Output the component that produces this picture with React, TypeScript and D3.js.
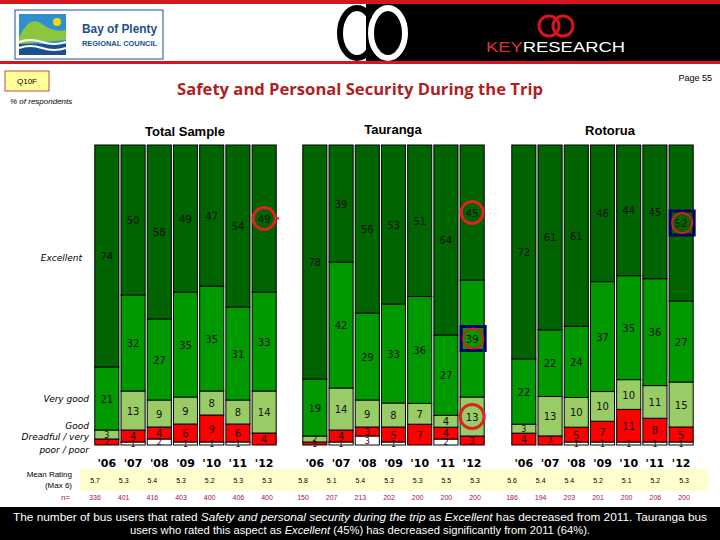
import * as d3 from "d3";

const years = ["'06", "'07", "'08", "'09", "'10", "'11", "'12"];
const groupNames = ["Total Sample", "Tauranga", "Rotorua"];
const seriesKeys = ["dk", "poor", "good", "vgood", "exc"];

const totalExcellent = [74, 50, 58, 49, 47, 54, 49];
const totalVeryGood = [21, 32, 27, 35, 35, 31, 33];
const totalGood = [3, 13, 9, 9, 8, 8, 14];
const totalPoor = [2, 4, 4, 6, 9, 6, 4];
const totalDontKnow = [0, 1, 2, 1, 1, 1, 0];

const taurangaExcellent = [78, 39, 56, 53, 51, 64, 45];
const taurangaVeryGood = [19, 42, 29, 33, 36, 27, 39];
const taurangaGood = [2, 14, 9, 8, 7, 4, 13];
const taurangaPoor = [1, 4, 3, 5, 7, 4, 3];
const taurangaDontKnow = [0, 1, 3, 1, 0, 2, 0];

const rotoruaExcellent = [72, 61, 61, 46, 44, 45, 52];
const rotoruaVeryGood = [22, 22, 24, 37, 35, 36, 27];
const rotoruaGood = [3, 13, 10, 10, 10, 11, 15];
const rotoruaPoor = [4, 3, 5, 7, 11, 8, 5];
const rotoruaDontKnow = [0, 0, 1, 1, 1, 1, 1];

const totalMean = [5.7, 5.3, 5.4, 5.3, 5.2, 5.3, 5.3];
const taurangaMean = [5.8, 5.1, 5.4, 5.3, 5.3, 5.5, 5.3];
const rotoruaMean = [5.6, 5.4, 5.4, 5.2, 5.1, 5.2, 5.3];

const totalN = [336, 401, 416, 403, 400, 406, 400];
const taurangaN = [150, 207, 213, 202, 200, 200, 200];
const rotoruaN = [186, 194, 203, 201, 200, 206, 200];

// significance marks: group index, year, series, kind
const marks = [
  { g: 0, year: "'12", key: "exc", kind: "circle" },
  { g: 1, year: "'12", key: "exc", kind: "circle" },
  { g: 1, year: "'12", key: "vgood", kind: "square" },
  { g: 1, year: "'12", key: "good", kind: "circle" },
  { g: 2, year: "'12", key: "exc", kind: "square" },
];

const colors: Record<string, string> = {
  exc: "#006400",
  vgood: "#009900",
  good: "#99CC66",
  poor: "#FF0000",
  dk: "#FFFFFF",
};

const groupRanges: [number, number][] = [
  [94, 277],
  [302, 485],
  [511, 694],
];
const titleX = [185, 393, 610];
const titleY = [136, 134, 135];

const makeRows = (exc: number[], vg: number[], gd: number[], pr: number[], dk: number[]) =>
  years.map((y, i) => ({ year: y, exc: exc[i], vgood: vg[i], good: gd[i], poor: pr[i], dk: dk[i] }));

const groups = [
  { rows: makeRows(totalExcellent, totalVeryGood, totalGood, totalPoor, totalDontKnow), mean: totalMean, n: totalN },
  { rows: makeRows(taurangaExcellent, taurangaVeryGood, taurangaGood, taurangaPoor, taurangaDontKnow), mean: taurangaMean, n: taurangaN },
  { rows: makeRows(rotoruaExcellent, rotoruaVeryGood, rotoruaGood, rotoruaPoor, rotoruaDontKnow), mean: rotoruaMean, n: rotoruaN },
];

const y = d3.scaleLinear().domain([0, 1]).range([445, 145]);
const stack = d3.stack<any>().keys(seriesKeys).offset(d3.stackOffsetExpand);

const labelFont = "Tahoma, 'DejaVu Sans', sans-serif";

function Group({ gi }: { gi: number }) {
  const g = groups[gi];
  const x = d3.scaleBand().domain(years).range(groupRanges[gi]).paddingInner(0.08).paddingOuter(0.03);
  const tx = d3.scalePoint().domain(years).range([groupRanges[gi][0] + 1, groupRanges[gi][1] - 10]);
  const layers = stack(g.rows as any);
  return (
    <g>
      <text x={titleX[gi]} y={titleY[gi]} textAnchor="middle" fontFamily="Arial, 'Liberation Sans', sans-serif" fontWeight="bold" fontSize={13}>
        {groupNames[gi]}
      </text>
      {layers.map((layer) => (
        <g key={layer.key}>
          {layer.map((d: any) => {
            const v = d.data[layer.key];
            if (!v) return null;
            return (
              <rect
                key={d.data.year}
                x={x(d.data.year)}
                y={y(d[1])}
                width={x.bandwidth()}
                height={y(d[0]) - y(d[1])}
                fill={colors[layer.key]}
                stroke="#000"
                strokeWidth={1}
              />
            );
          })}
        </g>
      ))}
      {layers.map((layer) => (
        <g key={layer.key + "-lab"} fontFamily={labelFont} fill="#111" textAnchor="middle">
          {layer.map((d: any) => {
            const v = d.data[layer.key];
            if (!v) return null;
            const small = v <= 3;
            return (
              <text
                key={d.data.year}
                x={(x(d.data.year) as number) + x.bandwidth() / 2}
                y={(y(d[0]) + y(d[1])) / 2 + (small ? 3 : 4)}
                fontSize={small ? 8 : 10}
              >
                {v}
              </text>
            );
          })}
        </g>
      ))}
      {marks
        .filter((m) => m.g === gi)
        .map((m, k) => {
          const layer = layers.find((l) => l.key === m.key)!;
          const d: any = layer.find((p: any) => p.data.year === m.year);
          const cx = (x(m.year) as number) + x.bandwidth() / 2;
          const cy = (y(d[0]) + y(d[1])) / 2;
          if (m.kind === "square") {
            return (
              <g key={k}>
                <rect x={cx - 11} y={cy - 12} width={24} height={24} fill="none" stroke="#000066" strokeWidth={3} />
                <circle cx={cx + 1} cy={cy} r={10} fill="none" stroke="#CC2222" strokeWidth={2} />
              </g>
            );
          }
          return (
            <g key={k}>
              <circle cx={cx} cy={cy} r={m.key === "good" ? 12 : 11} fill="none" stroke="#DD2222" strokeWidth={3} />
              {gi === 0 && <line x1={cx + 12} x2={cx + 15} y1={cy} y2={cy} stroke="#DD2222" strokeWidth={2} />}
            </g>
          );
        })}
      {years.map((yr) => (
        <text key={yr} x={(x(yr) as number) + x.bandwidth() / 2} y={467} textAnchor="middle" fontFamily={labelFont} fontWeight="bold" fontSize={11}>
          {yr}
        </text>
      ))}
      {years.map((yr, i) => (
        <text key={"m" + yr} x={tx(yr)} y={483} textAnchor="middle" fontFamily="Arial, sans-serif" fontSize={7}>
          {g.mean[i].toFixed(1)}
        </text>
      ))}
      {years.map((yr, i) => (
        <text key={"n" + yr} x={tx(yr)} y={500} textAnchor="middle" fontFamily="Arial, sans-serif" fontSize={7} fill="#A0203A">
          {g.n[i]}
        </text>
      ))}
    </g>
  );
}

function Header() {
  return (
    <g>
      <rect x={0} y={0} width={720} height={4} fill="#D8141E" />
      <rect x={366} y={4} width={354} height={58} fill="#000" />
      <rect x={0} y={61} width={720} height={3} fill="#D8141E" />
      {/* council logo */}
      <rect x={15} y={10} width={148} height={49} fill="#fff" stroke="#1B4F8F" strokeWidth={1} />
      <rect x={19} y={14} width={47} height={41} fill="#2F8FD0" />
      <path d="M19,38 C26,22 34,18 42,24 C50,30 58,32 66,30 L66,40 L19,44 Z" fill="#8CC63F" />
      <rect x={19} y={44} width={47} height={11} fill="#1B4F8F" />
      <path d="M19,42 Q30,38 42,42 T66,42" fill="none" stroke="#fff" strokeWidth={2} />
      <path d="M19,48 Q30,44 42,48 T66,48" fill="none" stroke="#fff" strokeWidth={2} />
      <circle cx={57} cy={22} r={4} fill="#F5D90A" />
      <text x={82} y={33} fontFamily="Arial, sans-serif" fontWeight="bold" fontSize={12} fill="#1B4F8F" textLength={75} lengthAdjust="spacingAndGlyphs">Bay of Plenty</text>
      <text x={82} y={46} fontFamily="Arial, sans-serif" fontWeight="bold" fontSize={7} fill="#1B4F8F" textLength={75} lengthAdjust="spacingAndGlyphs">REGIONAL COUNCIL</text>
      {/* centre rings */}
      <ellipse cx={357} cy={33} rx={17} ry={25} fill="none" stroke="#000" strokeWidth={6} />
      <ellipse cx={388} cy={33} rx={17} ry={25} fill="none" stroke="#fff" strokeWidth={6} />
      <rect x={366} y={4} width={6} height={14} fill="#000" />
      {/* key research */}
      <circle cx={549} cy={26} r={10} fill="none" stroke="#D8141E" strokeWidth={3} />
      <circle cx={563} cy={26} r={10} fill="none" stroke="#D8141E" strokeWidth={3} />
      <text x={486} y={52} fontFamily="Arial, sans-serif" fontSize={14} textLength={139} lengthAdjust="spacingAndGlyphs">
        <tspan fill="#E0303A">KEY</tspan>
        <tspan fill="#fff">RESEARCH</tspan>
      </text>
    </g>
  );
}

export default function App() {
  return (
    <svg width={720} height={540} style={{ position: "absolute", left: 0, top: 0, background: "#fff" }}>
      <rect width={720} height={540} fill="#fff" />
      <Header />
      <rect x={5} y={71} width={44} height={20} fill="#FFFF99" stroke="#B85040" strokeWidth={1} />
      <text x={27} y={84} textAnchor="middle" fontFamily="Arial, sans-serif" fontSize={8}>Q10F</text>
      <text x={10} y={104} fontFamily="Arial, sans-serif" fontStyle="italic" fontSize={8}>% of respondents</text>
      <text x={360} y={95} textAnchor="middle" fontFamily="'Open Sans', Arial, sans-serif" fontWeight="bold" fontSize={16} fill="#B01E23" textLength={366} lengthAdjust="spacingAndGlyphs">
        Safety and Personal Security During the Trip
      </text>
      <text x={712} y={81} textAnchor="end" fontFamily="Arial, sans-serif" fontSize={9}>Page 55</text>

      <rect x={80} y={469} width={628} height={22} fill="#FFFFCC" />

      <g fontFamily={labelFont} fontStyle="italic" fontSize={9} textAnchor="end">
        <text x={82} y={261}>Excellent</text>
        <text x={89} y={402}>Very good</text>
        <text x={89} y={429}>Good</text>
        <text x={89} y={440}>Dreadful / very</text>
        <text x={89} y={453}>poor / poor</text>
      </g>
      <g fontFamily="Arial, sans-serif" fontSize={8} textAnchor="end">
        <text x={72} y={477}>Mean Rating</text>
        <text x={72} y={488}>(Max 6)</text>
        <text x={70} y={500} fill="#A0203A">n=</text>
      </g>

      {groups.map((_, gi) => (
        <Group key={gi} gi={gi} />
      ))}

      <rect x={0} y={507} width={720} height={33} fill="#000" />
      <g fontFamily="'Liberation Sans Narrow', 'Arial Narrow', Arial, sans-serif" fontSize={11} fill="#fff" textAnchor="middle">
        <text x={360} y={521} textLength={694} lengthAdjust="spacingAndGlyphs">
          The number of bus users that rated <tspan fontStyle="italic">Safety and personal security during the trip</tspan> as <tspan fontStyle="italic">Excellent</tspan> has decreased from 2011. Tauranga bus
        </text>
        <text x={360} y={534} textLength={460} lengthAdjust="spacingAndGlyphs">
          users who rated this aspect as <tspan fontStyle="italic">Excellent</tspan> (45%) has decreased significantly from 2011 (64%).
        </text>
      </g>
    </svg>
  );
}
